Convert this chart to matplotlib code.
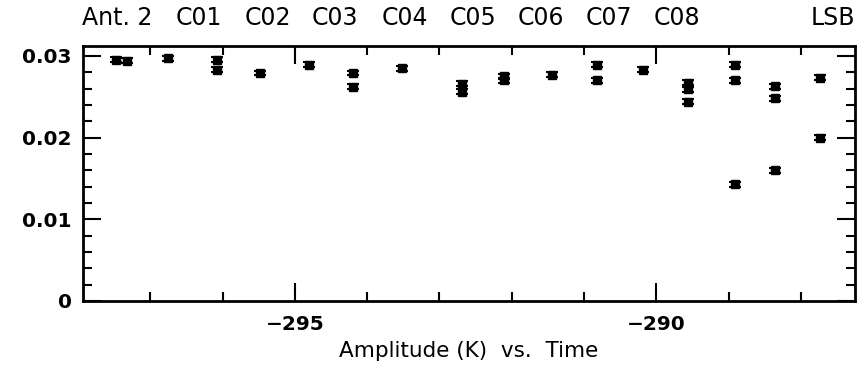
import matplotlib
matplotlib.use("Agg")
import matplotlib.pyplot as plt
from matplotlib.ticker import MultipleLocator, FixedLocator, FixedFormatter

# ---- data ----
times = [-297.47, -297.32, -296.75, -296.08, -296.08, -295.48, -294.81, -294.19,
         -294.19, -293.52, -292.69, -292.69, -292.11, -292.11, -291.44, -290.82,
         -290.82, -290.18, -289.56, -289.56, -289.56, -288.91, -288.91, -288.91,
         -288.35, -288.35, -288.35, -287.73, -287.73]
amps = [0.0295, 0.0294, 0.0297, 0.0295, 0.0283, 0.0279, 0.0289, 0.0279,
        0.0262, 0.0285, 0.0266, 0.0256, 0.0275, 0.0270, 0.0277, 0.0289,
        0.0270, 0.0283, 0.0267, 0.0259, 0.0244, 0.0289, 0.0270, 0.0143,
        0.0263, 0.0248, 0.0160, 0.0273, 0.0200]
errs = [0.0003] * len(amps)

title_labels = ["Ant. 2", "C01", "C02", "C03", "C04", "C05", "C06", "C07", "C08", "LSB"]
title_xpix = [82, 199, 268, 335, 405, 473, 541, 609, 677, 855]
ytick_vals = [0, 0.01, 0.02, 0.03]
ytick_labels = ["0", "0.01", "0.02", "0.03"]
xtick_vals = [-295, -290]
xtick_labels = ["\u2212295", "\u2212290"]
xlabel = "Amplitude (K)  vs.  Time"

W, H = 868, 369
fig = plt.figure(figsize=(W / 100, H / 100), dpi=100)
ax = fig.add_axes([83 / W, (H - 301) / H, (855 - 83) / W, (301 - 46) / H])

ax.errorbar(times, amps, yerr=errs, fmt="s", color="black", ms=6,
            elinewidth=1.5, capsize=4, capthick=1.5)

ax.set_xlim(-297.93, -287.25)
ax.set_ylim(0, 0.0312)

ax.xaxis.set_major_locator(FixedLocator(xtick_vals))
ax.xaxis.set_major_formatter(FixedFormatter(xtick_labels))
ax.xaxis.set_minor_locator(MultipleLocator(1))
ax.yaxis.set_major_locator(FixedLocator(ytick_vals))
ax.yaxis.set_major_formatter(FixedFormatter(ytick_labels))
ax.yaxis.set_minor_locator(MultipleLocator(0.002))

ax.tick_params(which="both", direction="in", top=True, right=True, color="black")
ax.tick_params(which="major", length=13, width=1.5)
ax.tick_params(which="minor", length=6.5, width=1.5)
ax.tick_params(axis="y", which="major", labelsize=14.5, pad=8)
ax.tick_params(axis="x", which="major", labelsize=14.5, pad=10)
for lab in ax.get_yticklabels() + ax.get_xticklabels():
    lab.set_fontweight("bold")
for s in ax.spines.values():
    s.set_linewidth(2)

ax.set_xlabel(xlabel, fontsize=15.5, labelpad=5)

for lab, xp in zip(title_labels, title_xpix):
    ha = "left" if lab.startswith("Ant") else ("right" if lab == "LSB" else "center")
    fig.text(xp / W, 1 - 18 / H, lab, ha=ha, va="center", fontsize=17)

fig.savefig("out.png", dpi=100)
